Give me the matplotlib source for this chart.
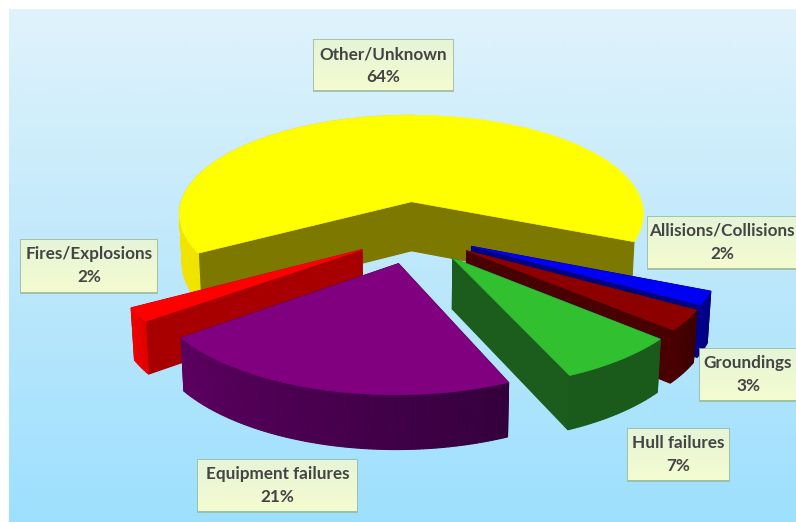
import matplotlib
matplotlib.use('Agg')
import matplotlib.pyplot as plt
import numpy as np
from matplotlib.colors import LinearSegmentedColormap
from matplotlib.patches import Polygon, Rectangle

# 数据
categories = ['Allisions/Collisions', 'Groundings', 'Hull failures',
              'Equipment failures', 'Fires/Explosions', 'Other/Unknown']
shares = [2, 3, 7, 21, 2, 64]
labels_pct = ['2%', '3%', '7%', '21%', '2%', '64%']

# 每块的颜色：顶面，外弧面（左、右），径向侧面
top_colors = ['#0000f5', '#8c0000', '#30c030', '#800080', '#ff0000', '#ffff00']
arc_left = ['#000090', '#4a0000', '#1a5a1a', '#5c0060', '#f00000', '#f0e400']
arc_right = ['#00007c', '#3c0000', '#1a5a1a', '#34003c', '#e00000', '#f0e400']
side_colors = ['#000080', '#480000', '#1c5c1c', '#3c0040', '#a80000', '#7d7800']

# 标签框 x0, y0, x1, y1（像素）
boxes = [(648, 217, 796, 268), (700, 349, 796, 400), (628, 429, 729, 480),
         (198, 460, 357, 511), (21, 240, 157, 292), (314, 40, 453, 90)]

W, H = 796, 522
cx, cy = 415, 232
R, Rq = 239, 105
k = 0.13
start = -23.0
explode_x, explode_y = 0.26, 0.30
depth = 50
draw_order = [5, 4, 0, 1, 2, 3]


def project(u, v, z=0.0):
    w = 1 + k * v
    shrink = 1 - 0.012 * z
    return cx + R * u / w * shrink, cy - Rq * v / w + z * depth / np.sqrt(w)


fig = plt.figure(figsize=(W / 100, H / 100), dpi=100)
ax = fig.add_axes([0, 0, 1, 1])
ax.set_xlim(0, W)
ax.set_ylim(H, 0)
ax.axis('off')

bg = LinearSegmentedColormap.from_list('bg', ['#e0f3fb', '#bee8fb', '#9de0fe'])
ax.imshow(np.linspace(0, 1, 256).reshape(-1, 1), cmap=bg, aspect='auto',
          extent=(9, W, H, 9), zorder=0)

# 角度由数值决定，顺时针排列
spans = np.array(shares) / sum(shares) * 360
ends = start - np.cumsum(spans)
starts = ends + spans

for i in draw_order:
    a0, a1 = np.radians(starts[i]), np.radians(ends[i])
    mid = (a0 + a1) / 2
    ox, oy = explode_x * np.cos(mid), explode_y * np.sin(mid)
    t = np.linspace(a0, a1, max(int(spans[i] * 1.2), 6))
    us = ox + np.cos(t)
    vs = oy + np.sin(t)

    faces = []
    # 径向侧面
    for j in (0, -1):
        quad = [project(ox, oy), project(us[j], vs[j]),
                project(us[j], vs[j], 1), project(ox, oy, 1)]
        faces.append(((oy + vs[j]) / 2, quad, side_colors[i]))
    # 外弧面，分段画出渐变
    c0 = np.array(matplotlib.colors.to_rgb(arc_left[i]))
    c1 = np.array(matplotlib.colors.to_rgb(arc_right[i]))
    for j in range(len(t) - 1):
        # 黄色块右侧的外弧面在原图里看不到
        if i == 5 and np.cos(t[j]) > 0:
            continue
        quad = [project(us[j], vs[j]), project(us[j + 1], vs[j + 1]),
                project(us[j + 1], vs[j + 1], 1), project(us[j], vs[j], 1)]
        f = 1 - j / (len(t) - 2)
        faces.append(((vs[j] + vs[j + 1]) / 2, quad, tuple(c0 + (c1 - c0) * f)))
    faces.sort(key=lambda item: -item[0])
    for _, quad, col in faces:
        ax.add_patch(Polygon(quad, closed=True, facecolor=col, edgecolor=col,
                             linewidth=0.8, zorder=2))
    top = [project(ox, oy)] + [project(a, b) for a, b in zip(us, vs)]
    ax.add_patch(Polygon(top, closed=True, facecolor=top_colors[i],
                         edgecolor=top_colors[i], linewidth=0.5, zorder=2))

# 标签
box_cm = LinearSegmentedColormap.from_list('box', ['#e6f5d8', '#f4fbcf'])
for name, pct, (x0, y0, x1, y1) in zip(categories, labels_pct, boxes):
    ax.add_patch(Rectangle((x0 - 1, y0 - 1), x1 - x0 + 2, y1 - y0 + 3,
                           facecolor='#9fb894', edgecolor='none', alpha=0.8,
                           zorder=3))
    ax.imshow(np.linspace(0, 1, 32).reshape(-1, 1), cmap=box_cm, aspect='auto',
              extent=(x0, x1, y1, y0), zorder=4)
    ax.text((x0 + x1) / 2, y0 + 14, name, ha='center', va='center', fontsize=12.3,
            family='Lato', fontweight='bold', color='#444444', zorder=5)
    ax.text((x0 + x1) / 2, y0 + 37, pct, ha='center', va='center', fontsize=12.3,
            family='Lato', fontweight='bold', color='#444444', zorder=5)
ax.set_xlim(0, W)
ax.set_ylim(H, 0)

fig.savefig('out.png', dpi=100, facecolor='white')
